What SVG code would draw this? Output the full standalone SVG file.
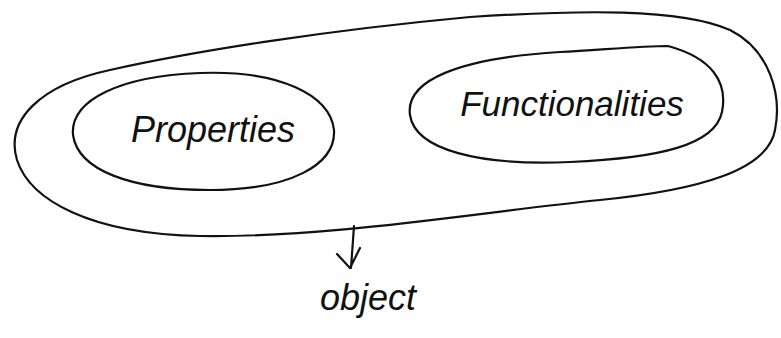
<svg xmlns="http://www.w3.org/2000/svg" width="781" height="338" viewBox="0 0 781 338">
<style>
.s{fill:none;stroke:#111;stroke-width:2.2;stroke-linecap:round;stroke-linejoin:round}
.t{font-family:"Liberation Sans",sans-serif;font-style:italic;fill:#111}
</style>
<rect width="781" height="338" fill="#fff"/>
<g id="object">
<path class="s" d="M470,17 C580,10 680,8 730,30 C770,50 782,95 775,130 C768,170 700,190 600,200 C480,212 330,238 200,236 C90,234 30,200 17,160 C5,120 40,85 110,70 C200,50 330,30 470,17 Z"/>
</g>
<g id="properties">
<path class="s" d="M200,73 C280,70 330,95 334,130 C336,165 290,190 210,190 C130,190 78,170 73,135 C70,100 120,76 200,73 Z"/>
<text class="t" x="213" y="142" font-size="36" text-anchor="middle">Properties</text>
</g>
<g id="functionalities">
<path class="s" d="M668,46 C712,58 728,82 722,112 C715,145 660,158 570,162 C480,166 415,150 410,115 C405,80 460,58 560,52 C600,50 640,46 668,46 Z"/>
<text class="t" x="572" y="116" font-size="35" text-anchor="middle">Functionalities</text>
</g>
<g id="connectors">
<path class="s" d="M354,226 L351,268 M337,254 L350,268 L360,248"/>
</g>
<text class="t" x="368" y="310" font-size="36" text-anchor="middle">object</text>
</svg>
